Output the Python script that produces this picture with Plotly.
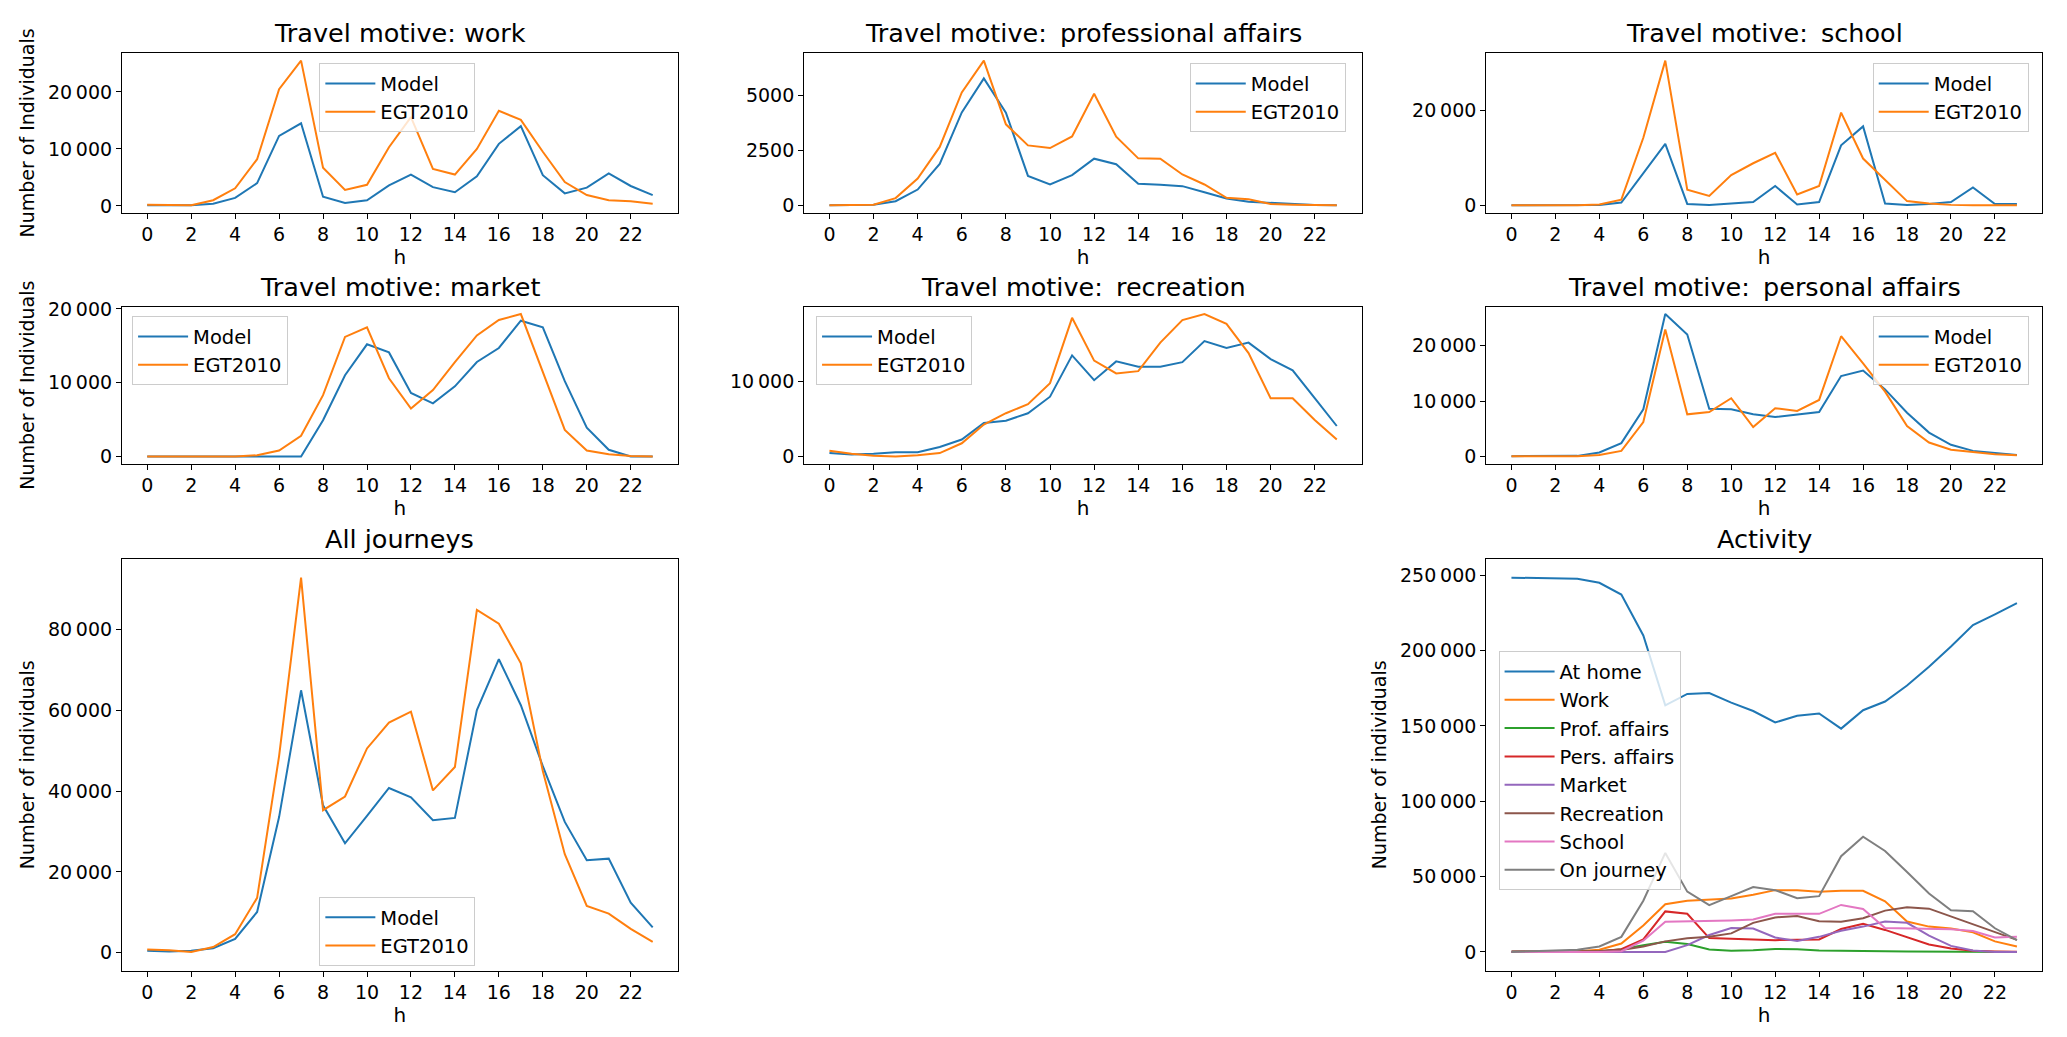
import plotly.graph_objects as go
from plotly.subplots import make_subplots

hours = list(range(24))
hour_ticks = list(range(0, 23, 2))

# travel motives, model vs EGT2010 survey
work_model = [100, 100, 100, 400, 1400, 4000, 12300, 14500, 1600, 500, 1000, 3600, 5500, 3300, 2400, 5200, 10900, 14000, 5400, 2200, 3200, 5700, 3500, 1900]
work_egt = [200, 200, 100, 1000, 3100, 8200, 20500, 25500, 6700, 2800, 3700, 10300, 15600, 6500, 5500, 10000, 16700, 15100, 9500, 4200, 1900, 1000, 800, 400]

prof_model = [0, 0, 30, 190, 720, 1890, 4230, 5780, 4220, 1340, 950, 1375, 2125, 1875, 985, 940, 875, 595, 310, 160, 110, 50, 20, 10]
prof_egt = [0, 10, 30, 330, 1220, 2660, 5140, 6590, 3690, 2730, 2610, 3140, 5080, 3125, 2140, 2125, 1405, 950, 345, 280, 60, 30, 20, 10]

school_model = [0, 0, 0, 0, 100, 600, 6700, 13000, 300, 100, 400, 700, 4100, 200, 700, 12700, 16700, 400, 100, 300, 700, 3800, 300, 300]
school_egt = [0, 0, 0, 0, 200, 1200, 14300, 30600, 3300, 2000, 6400, 8900, 11100, 2300, 4100, 19600, 9900, 5500, 900, 400, 100, 0, 0, 0]

market_model = [0, 0, 0, 0, 0, 0, 0, 0, 4900, 11000, 15200, 14100, 8600, 7200, 9500, 12800, 14700, 18400, 17500, 10200, 3900, 900, 0, 0]
market_egt = [0, 0, 0, 0, 0, 150, 800, 2800, 8300, 16200, 17500, 10600, 6500, 9000, 12800, 16400, 18500, 19300, 11400, 3600, 800, 300, 50, 0]

rec_model = [500, 300, 400, 600, 600, 1300, 2300, 4500, 4800, 5800, 8000, 13500, 10200, 12700, 12000, 12000, 12600, 15400, 14500, 15200, 13000, 11500, 7800, 4100]
rec_egt = [800, 400, 150, 50, 200, 500, 1800, 4300, 5800, 7000, 9800, 18500, 12800, 11100, 11400, 15200, 18200, 19000, 17700, 13800, 7800, 7800, 4900, 2300]

pers_model = [50, 50, 50, 100, 700, 2400, 8500, 25700, 22000, 8600, 8500, 7600, 7100, 7600, 8000, 14500, 15500, 12100, 7900, 4300, 2100, 1000, 600, 250]
pers_egt = [50, 50, 0, 50, 250, 1000, 6200, 22900, 7600, 8000, 10500, 5300, 8700, 8200, 10200, 21700, 16800, 11700, 5500, 2500, 1200, 800, 400, 200]

all_model = [500, 300, 500, 1100, 3400, 10100, 33600, 65000, 36500, 27100, 33900, 40800, 38500, 32800, 33400, 60100, 72700, 61300, 46200, 32400, 22900, 23300, 12400, 6300]
all_egt = [800, 600, 200, 1400, 4600, 13600, 48700, 92900, 35300, 38700, 50600, 57000, 59700, 40200, 46000, 84900, 81500, 71700, 45000, 24400, 11600, 9700, 5900, 2700]

# activity over the day
act_names = ['At home', 'Work', 'Prof. affairs', 'Pers. affairs', 'Market', 'Recreation', 'School', 'On journey']
at_home = [248400, 248200, 248200, 247700, 245000, 237200, 210000, 163700, 171200, 171800, 165500, 159900, 152300, 156800, 158300, 148200, 160400, 166200, 176800, 189200, 202700, 216900, 224100, 231500]
act_work = [0, 200, 300, 500, 1500, 5600, 17500, 31600, 33900, 34500, 35400, 37900, 41000, 41000, 40000, 40600, 40600, 33600, 20200, 16800, 15500, 13000, 7000, 3600]
act_prof = [0, 0, 0, 100, 500, 1800, 4500, 6700, 5200, 1600, 700, 1100, 2000, 1800, 900, 900, 900, 400, 200, 100, 0, 0, 0, 0]
act_pers = [0, 0, 0, 0, 200, 1800, 8300, 26900, 25300, 9200, 8700, 8500, 7800, 8000, 8300, 15200, 18600, 14600, 9600, 4900, 2200, 700, 300, 100]
act_market = [0, 0, 0, 0, 0, 0, 0, 0, 4500, 11200, 15900, 15500, 9600, 7200, 10000, 14100, 16800, 20200, 19300, 10800, 4000, 900, 0, 0]
act_rec = [500, 300, 400, 500, 600, 1300, 3600, 7000, 9000, 10000, 12300, 19300, 22900, 23800, 20400, 20000, 22400, 27400, 29600, 28700, 23500, 18200, 13000, 8000]
act_school = [0, 0, 0, 0, 0, 500, 7400, 20000, 20200, 20400, 20900, 21500, 25300, 25300, 25300, 31200, 28500, 15900, 15500, 15500, 15000, 13900, 9600, 10000]
act_journey = [0, 500, 1000, 1500, 3600, 10000, 34000, 65700, 40000, 31000, 37000, 43000, 41000, 35600, 37000, 63500, 76500, 67000, 53000, 38800, 27600, 27000, 15700, 7800]
act_series = [at_home, act_work, act_prof, act_pers, act_market, act_rec, act_school, act_journey]

colors = ['#1f77b4', '#ff7f0e', '#2ca02c', '#d62728', '#9467bd', '#8c564b', '#e377c2', '#7f7f7f']
FONT = 'DejaVu Sans'
GAP = ': \u2009'

fig = make_subplots(rows=3, cols=3,
                    specs=[[{}, {}, {}], [{}, {}, {}], [{}, None, {}]])

col_dom = {1: [0.059, 0.328], 2: [0.389, 0.659], 3: [0.719, 0.988]}
row_dom = {1: [0.795, 0.9485], 2: [0.553, 0.704], 3: [0.064, 0.461]}

# (row, col, title, series list, ytitle, legend x, legend y, dtick, tickformat)
panels = [
    (1, 1, 'Travel motive: work', [work_model, work_egt], 'Number of Individuals', 0.1545, 0.939, 10000, ',d'),
    (1, 2, 'Travel motive' + GAP + 'professional affairs', [prof_model, prof_egt], '', 0.5756, 0.939, 2500, 'd'),
    (1, 3, 'Travel motive' + GAP + 'school', [school_model, school_egt], '', 0.906, 0.939, 20000, ',d'),
    (2, 1, 'Travel motive: market', [market_model, market_egt], 'Number of Individuals', 0.0639, 0.695, 10000, ',d'),
    (2, 2, 'Travel motive' + GAP + 'recreation', [rec_model, rec_egt], '', 0.3948, 0.695, 10000, ',d'),
    (2, 3, 'Travel motive' + GAP + 'personal affairs', [pers_model, pers_egt], '', 0.906, 0.695, 10000, ',d'),
    (3, 1, 'All journeys', [all_model, all_egt], 'Number of individuals', 0.1545, 0.135, 20000, ',d'),
    (3, 3, 'Activity', act_series, 'Number of individuals', 0.725, 0.372, 50000, ',d'),
]

annotations = []
for i, (r, c, title, series, ytitle, lx, ly, dtick, fmt) in enumerate(panels):
    leg = 'legend' if i == 0 else 'legend%d' % (i + 1)
    names = act_names if title == 'Activity' else ['Model', 'EGT2010']
    for k, s in enumerate(series):
        fig.add_trace(go.Scatter(x=hours, y=s, mode='lines', name=names[k],
                                 line=dict(color=colors[k], width=2),
                                 legend=leg), row=r, col=c)
    mn = min(min(s) for s in series)
    mx = max(max(s) for s in series)
    pad = 0.05 * (mx - mn)
    fig.update_xaxes(domain=col_dom[c], range=[-1.15, 24.15], tickvals=hour_ticks,
                     title=dict(text='h', font=dict(size=20, family=FONT, color='black'), standoff=4),
                     row=r, col=c)
    fig.update_yaxes(domain=row_dom[r], range=[mn - pad, mx + pad], tick0=0, dtick=dtick,
                     tickformat=fmt,
                     title=dict(text=ytitle, font=dict(size=19, family=FONT, color='black'), standoff=8),
                     row=r, col=c)
    fig.update_layout({leg: dict(x=lx, y=ly, xanchor='left', yanchor='top', itemwidth=50,
                                 bgcolor='rgba(255,255,255,0.8)', bordercolor='#cccccc',
                                 borderwidth=1, font=dict(size=19.5, family=FONT, color='black'))})
    annotations.append(dict(text=title, x=sum(col_dom[c]) / 2, y=row_dom[r][1],
                            xref='paper', yref='paper', xanchor='center', yanchor='bottom',
                            yshift=3, showarrow=False,
                            font=dict(size=25.5, family=FONT, color='black')))

fig.update_xaxes(showline=True, linecolor='black', linewidth=1, mirror=True, ticks='outside',
                 ticklen=5, tickcolor='black', showgrid=False, zeroline=False, automargin=False,
                 tickfont=dict(size=19, family=FONT, color='black'))
fig.update_yaxes(showline=True, linecolor='black', linewidth=1, mirror=True, ticks='outside',
                 ticklen=5, tickcolor='black', showgrid=False, zeroline=False, automargin=False,
                 tickfont=dict(size=19, family=FONT, color='black'))

fig.update_layout(width=2067, height=1037, margin=dict(l=0, r=0, t=0, b=0),
                  plot_bgcolor='white', paper_bgcolor='white',
                  separators='.\u2009', annotations=annotations,
                  font=dict(family=FONT, color='black'))

fig.write_html("out.html", config={'displayModeBar': False},
               post_script="document.body.style.margin='0';")
